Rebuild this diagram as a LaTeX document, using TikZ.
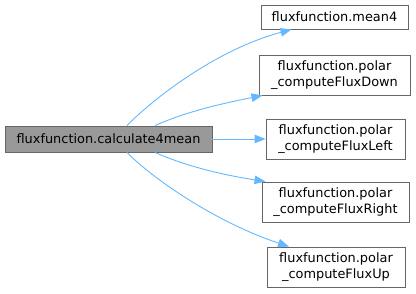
\documentclass[tikz,border=0pt]{standalone}
\usepackage{fontspec}
\setmainfont{DejaVu Sans}
\usetikzlibrary{arrows.meta}
\definecolor{edgeblue}{HTML}{63B8FF}
\definecolor{boxborder}{HTML}{666666}
\definecolor{mainfill}{HTML}{999999}
\tikzset{
  fnbox/.style={draw=boxborder, line width=0.9pt, fill=white, inner sep=0pt, align=center,
    font=\fontsize{12.9}{15.5}\selectfont, text=black},
  mainbox/.style={fnbox, fill=mainfill},
  call/.style={draw=edgeblue, line width=0.9pt, -{Triangle[length=11pt,width=8.5pt]}}
}
\begin{document}
\begin{tikzpicture}[x=1pt,y=-1pt]
\useasboundingbox (0,0) rectangle (416,293);
\node[mainbox, minimum width=207pt, minimum height=26pt] (calc) at (108.5,139) {fluxfunction.calculate4mean};
\node[fnbox, minimum width=147pt, minimum height=24pt] (mean) at (334.5,17) {fluxfunction.mean4};
\node[fnbox, minimum width=151pt, minimum height=40pt] (down) at (334.5,75) {fluxfunction.polar\\\_computeFluxDown};
\node[fnbox, minimum width=139pt, minimum height=40pt] (left) at (335.5,139) {fluxfunction.polar\\\_computeFluxLeft};
\node[fnbox, minimum width=147pt, minimum height=40pt] (right) at (335.5,202) {fluxfunction.polar\\\_computeFluxRight};
\node[fnbox, minimum width=138pt, minimum height=40pt] (up) at (336,267) {fluxfunction.polar\\\_computeFluxUp};
\draw[call] ([xshift=18.5pt]calc.north) .. controls (152,100) and (215,50) .. ([xshift=-43pt]mean.south);
\draw[call] ([xshift=46.5pt]calc.north) .. controls (190,110) and (230,102) .. ([xshift=-72pt]down.south);
\draw[call] (calc.east) -- (left.west);
\draw[call] ([xshift=46.5pt]calc.south) .. controls (190,168) and (230,176) .. ([xshift=-70pt]right.north);
\draw[call] ([xshift=18.5pt]calc.south) .. controls (152,178) and (215,222) .. ([xshift=-47pt]up.north);
\end{tikzpicture}
\end{document}
